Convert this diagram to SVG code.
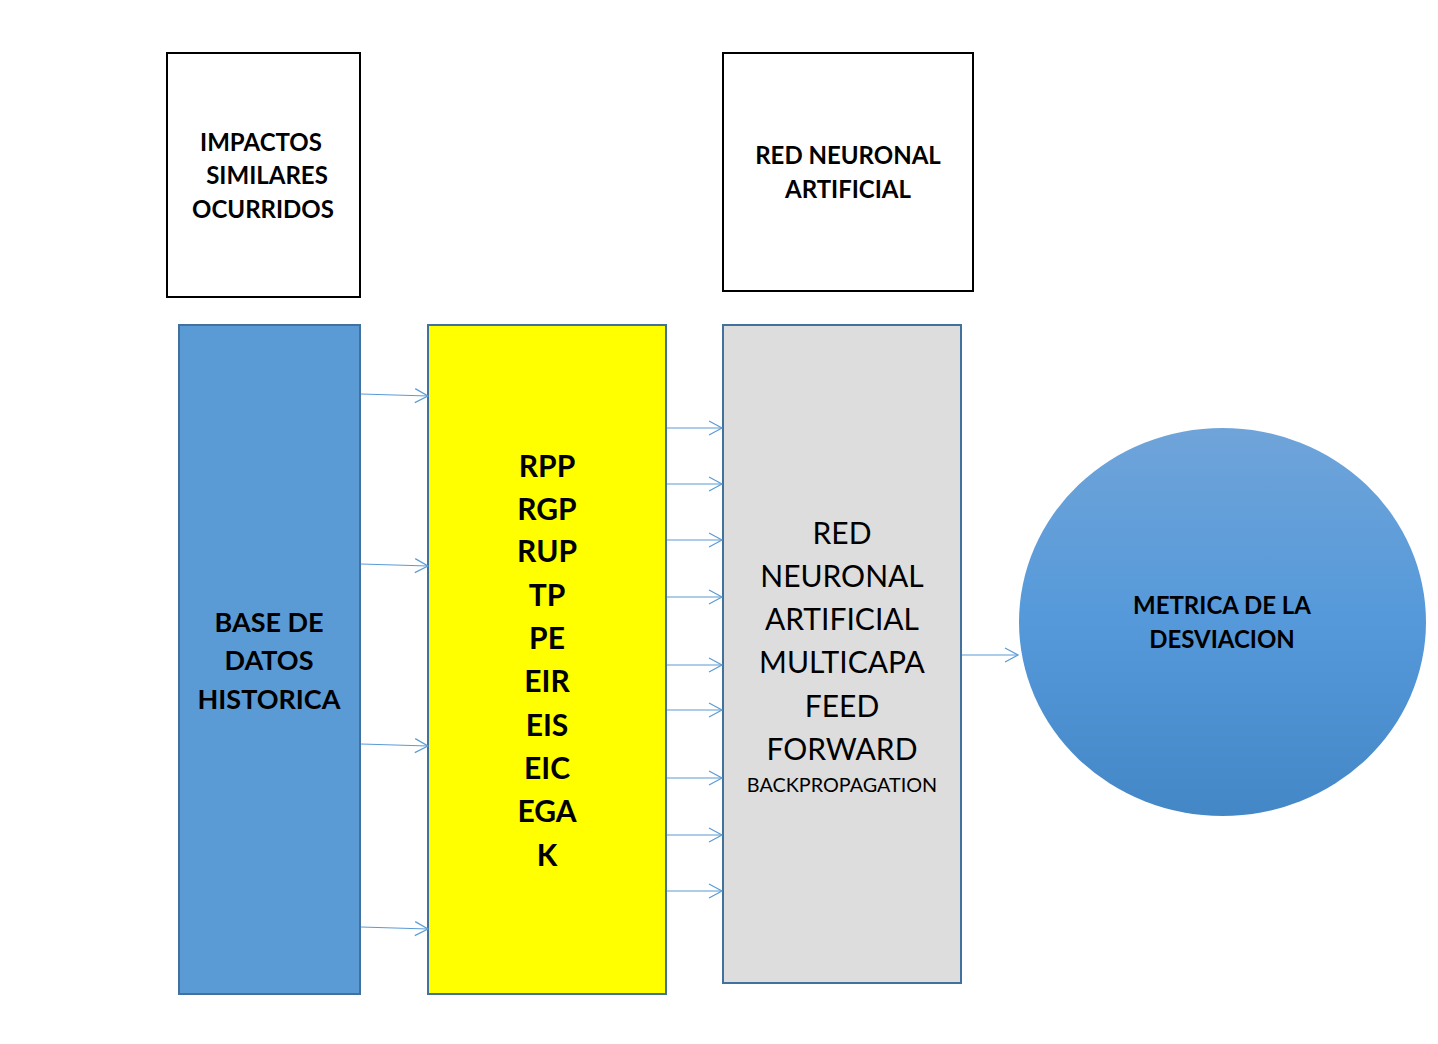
<svg xmlns="http://www.w3.org/2000/svg" width="1438" height="1044" viewBox="0 0 1438 1044">
<defs>
<style>
text{font-family:Lato,"Liberation Sans",sans-serif;fill:#000;text-anchor:middle}
.b{font-weight:bold}
.cap{fill:#fff;stroke:#000;stroke-width:2}
.col{stroke:#41719C;stroke-width:2}
.c line{stroke:#5B9BD5;stroke-width:1.2;fill:none;marker-end:url(#ah)}
</style>
<marker id="ah" markerUnits="userSpaceOnUse" markerWidth="20" markerHeight="20" refX="14" refY="8" orient="auto">
<path d="M1,1 L14,8 L1,15" fill="none" stroke="#5B9BD5" stroke-width="1.2"/>
</marker>
<linearGradient id="g" x1="0" y1="0" x2="0" y2="1">
<stop offset="0" stop-color="#6FA4D9"/>
<stop offset="0.5" stop-color="#5599DA"/>
<stop offset="1" stop-color="#4487C7"/>
</linearGradient>
</defs>
<rect width="1438" height="1044" fill="#fff"/>
<g id="impactos">
<rect class="cap" x="167" y="53" width="193" height="244"/>
<text class="b" font-size="24" x="261" y="151">IMPACTOS</text>
<text class="b" font-size="24" x="267" y="184">SIMILARES</text>
<text class="b" font-size="24" x="263" y="218">OCURRIDOS</text>
</g>
<g id="red-label">
<rect class="cap" x="723" y="53" width="250" height="238"/>
<text class="b" font-size="24" x="848" y="164">RED NEURONAL</text>
<text class="b" font-size="24" x="848" y="198">ARTIFICIAL</text>
</g>
<g id="base">
<rect class="col" x="179" y="325" width="181" height="669" fill="#5B9BD5"/>
<text class="b" font-size="27" x="269" y="632">BASE DE</text>
<text class="b" font-size="27" x="269" y="670">DATOS</text>
<text class="b" font-size="27" x="269" y="709">HISTORICA</text>
</g>
<g id="variables">
<rect class="col" x="428" y="325" width="238" height="669" fill="#FFFF00"/>
<g class="b" font-size="30">
<text x="547" y="477">RPP</text>
<text x="547" y="520">RGP</text>
<text x="547" y="562">RUP</text>
<text x="547" y="606">TP</text>
<text x="547" y="649">PE</text>
<text x="547" y="692">EIR</text>
<text x="547" y="736">EIS</text>
<text x="547" y="779">EIC</text>
<text x="547" y="822">EGA</text>
<text x="547" y="866">K</text>
</g>
</g>
<g id="rna">
<rect class="col" x="723" y="325" width="238" height="658" fill="#DDDDDD"/>
<g font-size="30">
<text x="842" y="544">RED</text>
<text x="842" y="587">NEURONAL</text>
<text x="842" y="630">ARTIFICIAL</text>
<text x="842" y="673">MULTICAPA</text>
<text x="842" y="717">FEED</text>
<text x="842" y="760">FORWARD</text>
</g>
<text font-size="19.8" x="842" y="792">BACKPROPAGATION</text>
</g>
<g id="metrica">
<ellipse cx="1222.5" cy="622" rx="203.5" ry="194" fill="url(#g)"/>
<text class="b" font-size="24" x="1222" y="614">METRICA DE LA</text>
<text class="b" font-size="24" x="1222" y="648">DESVIACION</text>
</g>
<g id="connectors" class="c">
<line x1="361" y1="394" x2="428" y2="396"/>
<line x1="361" y1="564" x2="428" y2="566"/>
<line x1="361" y1="744" x2="428" y2="746"/>
<line x1="361" y1="927" x2="428" y2="929"/>
<line x1="667" y1="428" x2="722" y2="428"/>
<line x1="667" y1="484" x2="722" y2="484"/>
<line x1="667" y1="540" x2="722" y2="540"/>
<line x1="667" y1="597" x2="722" y2="597"/>
<line x1="667" y1="665" x2="722" y2="665"/>
<line x1="667" y1="710" x2="722" y2="710"/>
<line x1="667" y1="778" x2="722" y2="778"/>
<line x1="667" y1="835" x2="722" y2="835"/>
<line x1="667" y1="891" x2="722" y2="891"/>
<line x1="962" y1="655" x2="1018" y2="655"/>
</g>
</svg>
